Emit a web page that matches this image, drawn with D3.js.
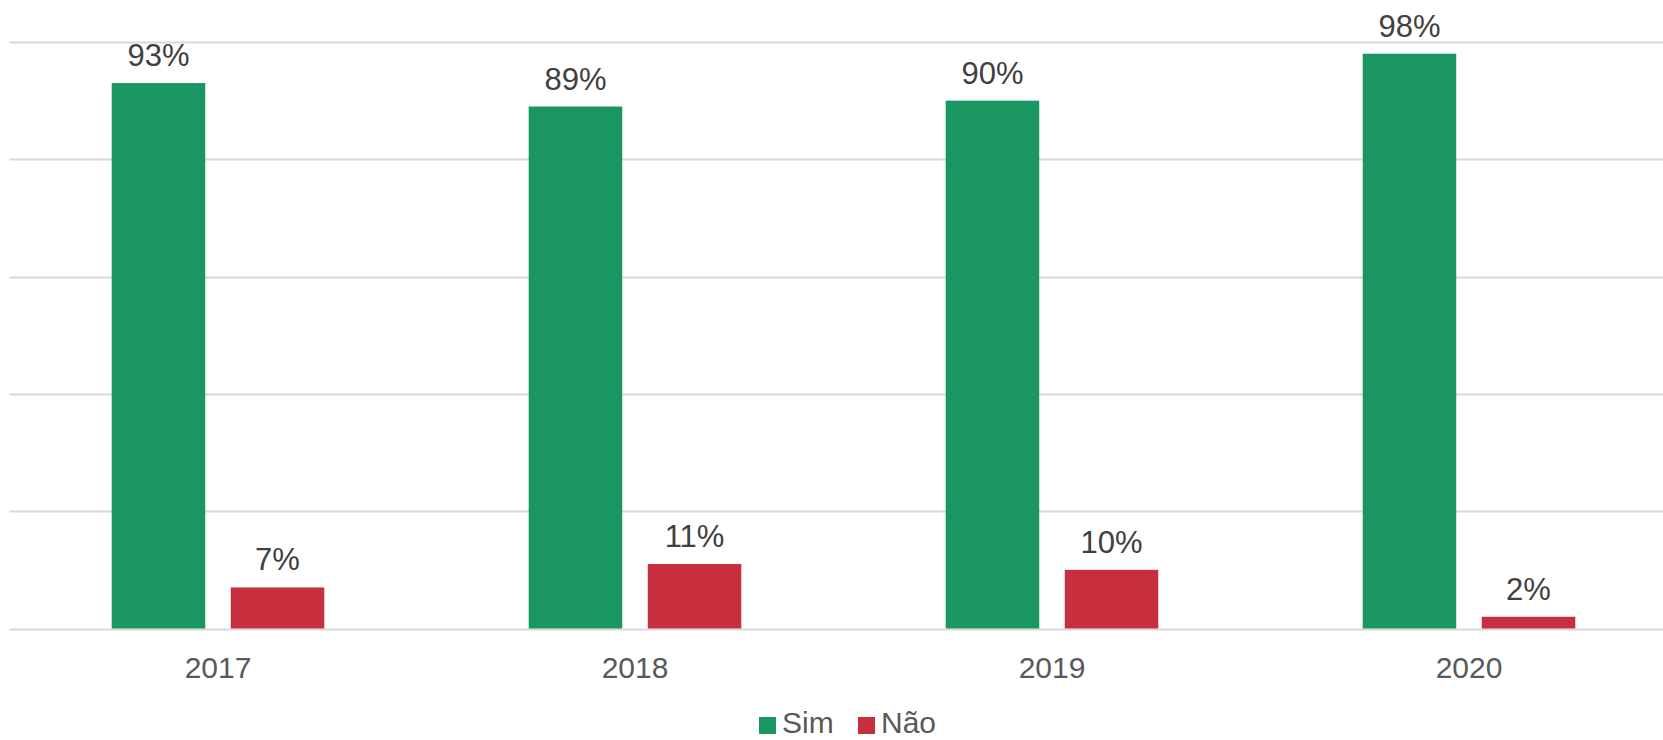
<!DOCTYPE html>
<html>
<head>
<meta charset="utf-8">
<script src="https://cdn.jsdelivr.net/npm/d3@7/dist/d3.min.js"></script>
<style>
  html, body { margin: 0; padding: 0; background: #fff; }
  svg { display: block; font-family: "Liberation Sans", Arial, sans-serif; }
</style>
</head>
<body>
<svg id="chart" width="1663" height="740"></svg>
<script>
// Survey answers per year (percent)
const years = ["2017", "2018", "2019", "2020"];
const seriesNames = ["Sim", "Não"];
const simValues = [93, 89, 90, 98];
const naoValues = [7, 11, 10, 2];
const yTicks = [0, 20, 40, 60, 80, 100];
const seriesColors = ["#1a9663", "#c82f3e"];

const width = 1663, height = 740;
const svg = d3.select("#chart");

// Plot area (the right-most category extends slightly past the canvas edge)
const plot = { left: 9.5, right: 1677.5, top: 42, bottom: 628.5 };

const x = d3.scaleBand().domain(years).range([plot.left, plot.right]).paddingInner(0).paddingOuter(0);
const y = d3.scaleLinear().domain([0, 100]).range([plot.bottom, plot.top]);

// Bars inside each category: two bars with a small gap, centred in the band
const barFrac = 0.2243, gapFrac = 0.0612;
const groupWidth = 2 * barFrac + gapFrac;
const inner = d3.scaleBand().domain(seriesNames)
  .range([x.bandwidth() * (1 - groupWidth) / 2, x.bandwidth() * (1 + groupWidth) / 2])
  .paddingInner(gapFrac / (barFrac + gapFrac))
  .paddingOuter(0);

// Horizontal gridlines
svg.append("g")
  .selectAll("line")
  .data(yTicks)
  .join("line")
  .attr("x1", plot.left)
  .attr("x2", width)
  .attr("y1", d => Math.round(y(d)) + 0.5)
  .attr("y2", d => Math.round(y(d)) + 0.5)
  .attr("stroke", "#d9d9d9")
  .attr("stroke-width", 2);

const rows = years.map((yr, i) => ({ year: yr, values: [simValues[i], naoValues[i]] }));

const groups = svg.append("g")
  .selectAll("g")
  .data(rows)
  .join("g")
  .attr("transform", d => `translate(${x(d.year)},0)`);

groups.selectAll("rect")
  .data(d => d.values.map((v, k) => ({ name: seriesNames[k], value: v, k })))
  .join("rect")
  .attr("x", d => inner(d.name))
  .attr("width", inner.bandwidth())
  .attr("y", d => y(d.value))
  .attr("height", d => y(0) - y(d.value))
  .attr("fill", d => seriesColors[d.k]);

// Value labels above bars
groups.selectAll("text.val")
  .data(d => d.values.map((v, k) => ({ name: seriesNames[k], value: v })))
  .join("text")
  .attr("class", "val")
  .attr("x", d => inner(d.name) + inner.bandwidth() / 2)
  .attr("y", d => y(d.value) - 17)
  .attr("text-anchor", "middle")
  .attr("font-size", 31)
  .attr("fill", "#404040")
  .text(d => d.value + "%");

// Category axis labels
const xAxis = d3.axisBottom(x).tickSize(0).tickPadding(0);
const gx = svg.append("g")
  .attr("transform", `translate(0,${plot.bottom})`)
  .call(xAxis);
gx.select(".domain").remove();
gx.selectAll("text")
  .attr("y", 49)
  .attr("dy", 0)
  .attr("font-size", 30)
  .attr("font-family", "Liberation Sans, Arial, sans-serif")
  .attr("fill", "#595959");

// Legend
const legendItems = [
  { name: seriesNames[0], color: seriesColors[0], x: 759 },
  { name: seriesNames[1], color: seriesColors[1], x: 858 }
];
const lg = svg.append("g");
lg.selectAll("rect")
  .data(legendItems)
  .join("rect")
  .attr("x", d => d.x)
  .attr("y", 717)
  .attr("width", 17)
  .attr("height", 17)
  .attr("fill", d => d.color);
lg.selectAll("text")
  .data(legendItems)
  .join("text")
  .attr("x", d => d.x + 23)
  .attr("y", 733)
  .attr("font-size", 30)
  .attr("fill", "#595959")
  .text(d => d.name);
</script>
</body>
</html>
